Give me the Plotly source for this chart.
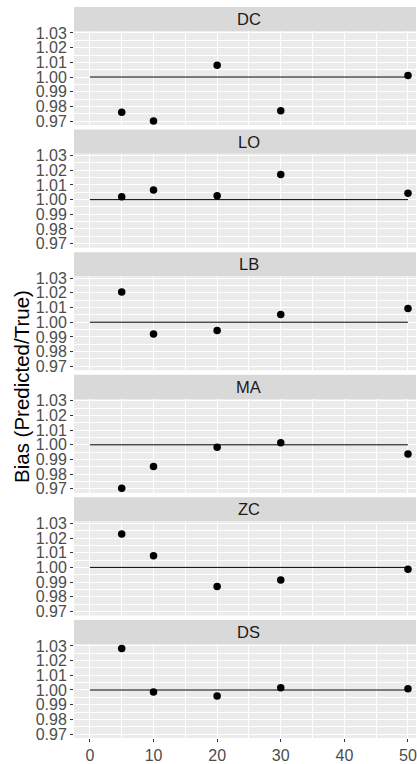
import plotly.graph_objects as go
from plotly.subplots import make_subplots

# ---- data ----
panels = ["DC", "LO", "LB", "MA", "ZC", "DS"]
x_vals = [5, 10, 20, 30, 50]
bias_DC = [0.976, 0.970, 1.008, 0.977, 1.001]
bias_LO = [1.002, 1.0065, 1.0027, 1.0172, 1.0043]
bias_LB = [1.0206, 0.992, 0.9943, 1.0053, 1.0094]
bias_MA = [0.9704, 0.9853, 0.9984, 1.0014, 0.9938]
bias_ZC = [1.0227, 1.0079, 0.987, 0.9915, 0.9988]
bias_DS = [1.0283, 0.9986, 0.9959, 1.0016, 1.0009]
series = [bias_DC, bias_LO, bias_LB, bias_MA, bias_ZC, bias_DS]
ref_line_x = [0, 50]
ref_line_y = [1.0, 1.0]
y_tickvals = [0.97, 0.98, 0.99, 1.00, 1.01, 1.02, 1.03]
y_ticktext = ["0.97", "0.98", "0.99", "1.00", "1.01", "1.02", "1.03"]
x_tickvals = [0, 10, 20, 30, 40, 50]

# ---- layout geometry ----
W, H = 417, 764
ML, MR, MT, MB = 74, 0, 4, 21
PH = H - MT - MB  # plot-area height
strip_h = 24.5
gap = 4.6
period = (PH + gap) / 6
panel_h = period - gap - strip_h


def clamp(v):
    return min(1.0, max(0.0, v))


n = len(panels)
fig = make_subplots(rows=n, cols=1, shared_xaxes=True, vertical_spacing=0.01)

tick_font = dict(family="Liberation Sans, Arial, sans-serif", size=16, color="#4D4D4D")

for i, (name, ys) in enumerate(zip(panels, series)):
    r = i + 1
    fig.add_trace(go.Scatter(x=ref_line_x, y=ref_line_y, mode="lines",
                             line=dict(color="#000000", width=1),
                             hoverinfo="skip", showlegend=False), row=r, col=1)
    fig.add_trace(go.Scatter(x=x_vals, y=ys, mode="markers",
                             marker=dict(color="#000000", size=7.5),
                             cliponaxis=False, showlegend=False), row=r, col=1)

    top = i * period
    y_strip_top = clamp(1 - top / PH)
    y_strip_bot = clamp(1 - (top + strip_h) / PH)
    y_panel_bot = clamp(1 - (top + strip_h + panel_h) / PH)
    ysuf = "" if r == 1 else str(r)
    fig.update_layout(**{
        f"yaxis{ysuf}": dict(
            domain=[y_panel_bot, y_strip_bot],
            range=[0.9673, 1.0312],
            tickvals=y_tickvals, ticktext=y_ticktext,
            ticks="outside", ticklen=3, tickwidth=1, tickcolor="#333333",
            tickfont=tick_font,
            showgrid=True, gridcolor="#FFFFFF", gridwidth=1.1,
            minor=dict(dtick=0.005, tick0=0.965, showgrid=True,
                       gridcolor="#FFFFFF", gridwidth=0.5),
            zeroline=False, showline=False,
        ),
        f"xaxis{ysuf}": dict(
            range=[-2.5, 51.26],
            tickvals=x_tickvals,
            ticks="outside" if r == n else "",
            ticklen=3, tickwidth=1, tickcolor="#333333",
            showticklabels=(r == n),
            ticklabeloverflow="allow",
            tickfont=tick_font,
            showgrid=True, gridcolor="#FFFFFF", gridwidth=1.1,
            minor=dict(dtick=5, tick0=5, showgrid=True,
                       gridcolor="#FFFFFF", gridwidth=0.5),
            zeroline=False, showline=False,
        ),
    })
    # strip
    fig.add_shape(type="rect", xref="paper", yref="paper",
                  x0=0, x1=1, y0=y_strip_bot, y1=y_strip_top,
                  fillcolor="#D9D9D9", line=dict(width=0), layer="below")
    # panel background
    fig.add_shape(type="rect", xref="paper", yref="paper",
                  x0=0, x1=1, y0=y_panel_bot, y1=y_strip_bot,
                  fillcolor="#EBEBEB", line=dict(width=0), layer="below")
    xref = "x" if r == 1 else f"x{r}"
    fig.add_annotation(text=name, xref=xref, yref="paper",
                       x=25, y=(y_strip_top + y_strip_bot) / 2,
                       xanchor="center", yanchor="middle", showarrow=False,
                       font=dict(family="Liberation Sans, Arial, sans-serif",
                                 size=16.5, color="#1A1A1A"))

# y-axis title
fig.add_annotation(text="Bias (Predicted/True)", xref="paper", yref="paper",
                   x=(22 - ML) / (W - ML - MR), y=1 - (388 - MT) / PH,
                   xanchor="center", yanchor="middle", textangle=-90,
                   showarrow=False,
                   font=dict(family="Liberation Sans, Arial, sans-serif",
                             size=20.5, color="#000000"))

fig.update_layout(width=W, height=H,
                  margin=dict(l=ML, r=MR, t=MT, b=MB),
                  paper_bgcolor="#FFFFFF", plot_bgcolor="rgba(0,0,0,0)",
                  showlegend=False)

fig.write_html(
    "out.html",
    config={"displayModeBar": False},
    post_script="document.body.style.margin='0';document.body.style.padding='0';"
                "document.body.style.overflow='hidden';"
                "document.documentElement.style.overflow='hidden';",
)
